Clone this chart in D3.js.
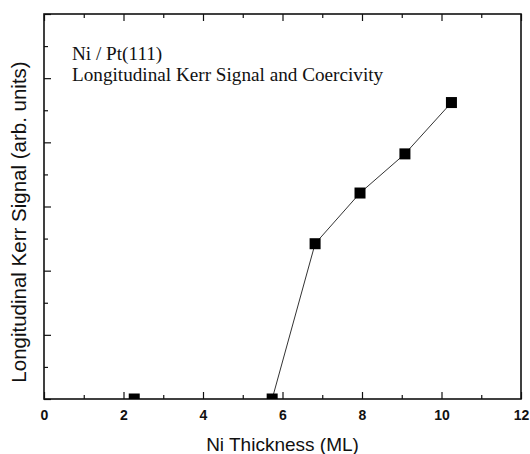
<!DOCTYPE html>
<html>
<head>
<meta charset="utf-8">
<script src="https://cdn.jsdelivr.net/npm/d3@7"></script>
<style>
  body { margin: 0; background: #fff; }
</style>
</head>
<body>
<div id="chart"></div>
<script>
// Data
const thickness = [2.27, 5.74, 6.82, 7.95, 9.08, 10.25]
const kerrSignal = [0, 0, 2.42, 3.21, 3.82, 4.62]
const xMajorTicks = [0, 2, 4, 6, 8, 10, 12]
const xMinorTicks = [1, 3, 5, 7, 9, 11]
const yMajorTicks = [0, 1, 2, 3, 4, 5, 6]
const yMinorTicks = [0.5, 1.5, 2.5, 3.5, 4.5, 5.5]
const noteLines = ['Ni / Pt(111)', 'Longitudinal Kerr Signal and Coercivity']

function draw() {
  const dataset = thickness.map((x, i) => ({ x: x, y: kerrSignal[i] }))
  const xAccessor = d => d.x
  const yAccessor = d => d.y

  // Dimensions
  let dimensions = {
    width: 530,
    height: 454,
    margins: { top: 14, right: 9, bottom: 55, left: 44 }
  }
  dimensions.ctrWidth = dimensions.width - dimensions.margins.left - dimensions.margins.right
  dimensions.ctrHeight = dimensions.height - dimensions.margins.top - dimensions.margins.bottom

  const svg = d3.select('#chart')
    .append('svg')
    .attr('width', dimensions.width)
    .attr('height', dimensions.height)

  const ctr = svg.append('g')
    .attr('transform', `translate(${dimensions.margins.left}, ${dimensions.margins.top})`)

  // Scales
  const xScale = d3.scaleLinear()
    .domain([0, 12])
    .range([0, dimensions.ctrWidth])

  const yScale = d3.scaleLinear()
    .domain([0, 6])
    .range([dimensions.ctrHeight, 0])

  // clip so the points sitting on zero only show their upper half
  svg.append('defs').append('clipPath')
    .attr('id', 'plot-clip')
    .append('rect')
    .attr('width', dimensions.ctrWidth)
    .attr('height', dimensions.ctrHeight)

  // Axes - ticks all point inward
  const tickFont = g => g.selectAll('text')
    .attr('font-family', 'Liberation Sans, Arial, sans-serif')
    .attr('font-size', 14)
    .attr('font-weight', 'bold')
    .attr('fill', '#111')

  ctr.append('g')
    .attr('transform', `translate(0, ${dimensions.ctrHeight})`)
    .call(d3.axisBottom(xScale).tickValues(xMajorTicks).tickSize(-7).tickPadding(11).tickFormat(d3.format('d')))
    .call(tickFont)
  ctr.append('g')
    .attr('transform', `translate(0, ${dimensions.ctrHeight})`)
    .call(d3.axisBottom(xScale).tickValues(xMinorTicks).tickSize(-4).tickFormat(''))

  ctr.append('g')
    .call(d3.axisTop(xScale).tickValues(xMajorTicks).tickSize(-7).tickFormat(''))
  ctr.append('g')
    .call(d3.axisTop(xScale).tickValues(xMinorTicks).tickSize(-4).tickFormat(''))

  ctr.append('g')
    .call(d3.axisLeft(yScale).tickValues(yMajorTicks).tickSize(-7).tickFormat(''))
  ctr.append('g')
    .call(d3.axisLeft(yScale).tickValues(yMinorTicks).tickSize(-4).tickFormat(''))

  ctr.selectAll('.domain').remove()
  ctr.selectAll('.tick line').attr('stroke', '#111').attr('stroke-width', 1.2)

  // Frame
  ctr.append('rect')
    .attr('width', dimensions.ctrWidth)
    .attr('height', dimensions.ctrHeight)
    .attr('fill', 'none')
    .attr('stroke', '#111')
    .attr('stroke-width', 1.6)

  // Line + markers
  const line = d3.line()
    .x(d => xScale(xAccessor(d)))
    .y(d => yScale(yAccessor(d)))

  const plot = ctr.append('g').attr('clip-path', 'url(#plot-clip)')

  plot.append('path')
    .datum(dataset.slice(1))
    .attr('d', line)
    .attr('fill', 'none')
    .attr('stroke', '#333')
    .attr('stroke-width', 1)

  const size = 11
  plot.selectAll('rect.pt')
    .data(dataset)
    .join('rect')
    .attr('class', 'pt')
    .attr('x', d => xScale(xAccessor(d)) - size / 2)
    .attr('y', d => yScale(yAccessor(d)) - size / 2)
    .attr('width', size)
    .attr('height', size)
    .attr('fill', '#000')

  // Note text inside the plot
  ctr.append('g')
    .selectAll('text')
    .data(noteLines)
    .join('text')
    .attr('x', 28)
    .attr('y', (d, i) => 46 + i * 21)
    .attr('font-family', 'Liberation Serif, Times New Roman, serif')
    .attr('font-size', 19.2)
    .attr('fill', '#111')
    .text(d => d)

  // Axis titles
  svg.append('text')
    .attr('x', dimensions.margins.left + dimensions.ctrWidth / 2)
    .attr('y', 451)
    .attr('text-anchor', 'middle')
    .attr('font-family', 'Liberation Sans, Arial, sans-serif')
    .attr('font-size', 19)
    .attr('fill', '#111')
    .text('Ni Thickness (ML)')

  svg.append('text')
    .attr('transform', 'translate(26, 222) rotate(-90)')
    .attr('text-anchor', 'middle')
    .attr('font-family', 'Liberation Sans, Arial, sans-serif')
    .attr('font-size', 20.5)
    .attr('fill', '#111')
    .text('Longitudinal Kerr Signal (arb. units)')
}

draw()
</script>
</body>
</html>
